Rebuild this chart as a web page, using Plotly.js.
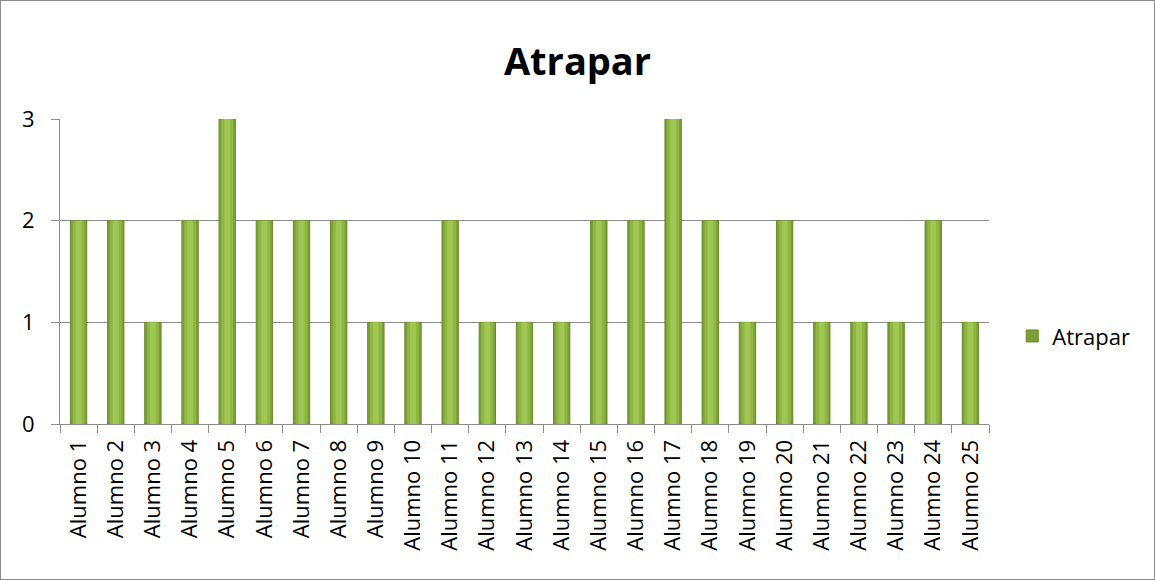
<!DOCTYPE html>
<html><head><meta charset="utf-8">
<script src="https://cdn.plot.ly/plotly-3.0.1.min.js"></script>
<style>html,body{margin:0;padding:0;background:#fff}#c{width:1153px;height:578px;border:1px solid #8c8c8c}</style>
</head><body><div id="c"></div>
<script>
const categories = ["Alumno 1","Alumno 2","Alumno 3","Alumno 4","Alumno 5","Alumno 6","Alumno 7","Alumno 8","Alumno 9","Alumno 10","Alumno 11","Alumno 12","Alumno 13","Alumno 14","Alumno 15","Alumno 16","Alumno 17","Alumno 18","Alumno 19","Alumno 20","Alumno 21","Alumno 22","Alumno 23","Alumno 24","Alumno 25"];
const atrapar = [2,2,1,2,3,2,2,2,1,1,2,1,1,1,2,2,3,2,1,2,1,1,1,2,1];
const seriesName = "Atrapar";
const yTicks = [0,1,2,3];

const font = "'Open Sans', 'Liberation Sans', sans-serif";
const traces = [
  {type:'bar', x:categories, y:atrapar, name:seriesName,
   marker:{color:'#7d9f37', line:{color:'#6a8a2c', width:1}}, width:0.44, showlegend:true, hoverinfo:'skip'},
  {type:'bar', x:categories, y:atrapar, name:seriesName,
   marker:{color:'#8fb542', line:{width:0}}, width:0.32, showlegend:false, hoverinfo:'skip'},
  {type:'bar', x:categories, y:atrapar, name:seriesName,
   marker:{color:'#a0c653', line:{width:0}}, width:0.16, showlegend:false, hoverinfo:'skip'}
];
Plotly.newPlot('c', traces, {
  width:1153, height:578,
  margin:{l:59, r:165, t:118, b:155},
  paper_bgcolor:'#fff', plot_bgcolor:'#fff',
  barmode:'overlay',
  title:{text:'<b>Atrapar</b>', font:{family:font, size:38, color:'#000'}, x:0.5, xanchor:'center', y:0.895, yanchor:'middle'},
  xaxis:{type:'category', tickangle:-90, tickfont:{family:font, size:22, color:'#000'},
    ticks:'outside', ticklen:8, tickcolor:'#8c8c8c', tickson:'boundaries', ticklabelstandoff:6,
    showline:true, linecolor:'#8c8c8c', linewidth:1, showgrid:false, range:[-0.5,24.5]},
  yaxis:{range:[0,3], tickvals:yTicks, tickfont:{family:font, size:22, color:'#000'},
    ticks:'outside', ticklen:8, tickcolor:'#8c8c8c', showline:true, linecolor:'#8c8c8c',
    ticklabelstandoff:12,
    showgrid:true, gridcolor:'#8c8c8c', gridwidth:1, zeroline:false},
  legend:{x:1.025, y:0.288, xanchor:'left', yanchor:'middle', font:{family:font, size:22, color:'#000'}},
}, {staticPlot:true});
</script></body></html>
